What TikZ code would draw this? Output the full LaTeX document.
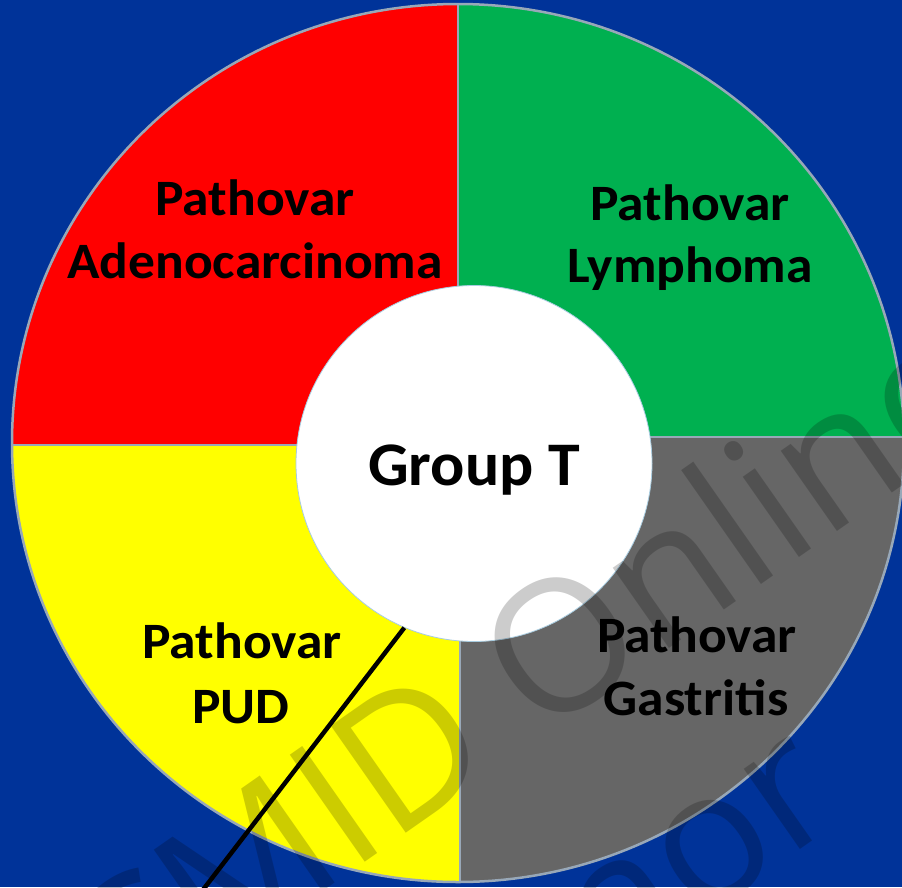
\documentclass[tikz,border=0pt]{standalone}
\usepackage{fontspec}
\newfontfamily\labfont{Carlito}
\newfontfamily\wmfont{Open Sans}
\definecolor{bgblue}{HTML}{003399}
\definecolor{secred}{HTML}{FF0000}
\definecolor{secgreen}{HTML}{00B050}
\definecolor{secgray}{HTML}{666666}
\definecolor{secyellow}{HTML}{FFFF00}
\definecolor{rimline}{HTML}{98A8B8}
\definecolor{hubline}{HTML}{A8CCE0}
\tikzset{
  rim/.style={draw=rimline, line width=2.5pt},
  hub/.style={circle, fill=white, draw=hubline, line width=0.8pt, minimum size=356pt, inner sep=0pt},
  lab/.style={anchor=base, inner sep=0pt, xscale=1.05, font=\labfont\bfseries\fontsize{51}{61}\selectfont, text=black},
  grouplab/.style={anchor=base, inner sep=0pt, xscale=1.03, font=\labfont\bfseries\fontsize{62}{74}\selectfont, text=black},
  pointer/.style={draw=black, line width=4.5pt},
  wm/.style={inner sep=0pt, font=\wmfont\fontsize{183}{220}\selectfont, text=black, opacity=0.2, text opacity=0.2}
}
\begin{document}
\begin{tikzpicture}[x=1pt,y=-1pt]
\useasboundingbox (0,0) rectangle (902,887);
\clip (0,0) rectangle (902,887);
\fill[bgblue] (0,0) rectangle (902,887);
% sectors
\begin{scope}
  \clip (458,443) ellipse [x radius=446pt, y radius=439pt];
  \fill[secred] (0,0) rectangle (458,445);
  \fill[secgreen] (458,0) rectangle (910,437);
  \fill[secgray] (460,437) rectangle (910,900);
  \fill[secyellow] (0,445) rectangle (460,900);
  \draw[rim] (0,445) -- (458,445);
  \draw[rim] (458,437) -- (910,437);
  \draw[rim] (458,0) -- (458,445);
  \draw[rim] (460,437) -- (460,900);
\end{scope}
\draw[rim] (458,443) ellipse [x radius=446pt, y radius=439pt];
% hub
\node[hub] (hub) at (474,463.5) {};
\node[grouplab] (grouplabel) at (474,485) {Group T};
% sector labels
\node[lab] (adenoA) at (255,215) {Pathovar};
\node[lab] (adenoB) at (255,278) {Adenocarcinoma};
\node[lab] (lymphA) at (690,220) {Pathovar};
\node[lab] (lymphB) at (690,282) {Lymphoma};
\node[lab] (pudA) at (242,658) {Pathovar};
\node[lab] (pudB) at (241,723) {PUD};
\node[lab] (gastA) at (697,652) {Pathovar};
\node[lab] (gastB) at (696,715) {Gastritis};
% pointer line
\coordinate (tailend) at (199,895);
\draw[pointer] (hub.247) -- (tailend);
% watermark
\node[wm, rotate=35] (wmA) at (521,669) {CMID Online};
\node[wm, rotate=35] (wmB) at (699,861) {nor};
\end{tikzpicture}
\end{document}
